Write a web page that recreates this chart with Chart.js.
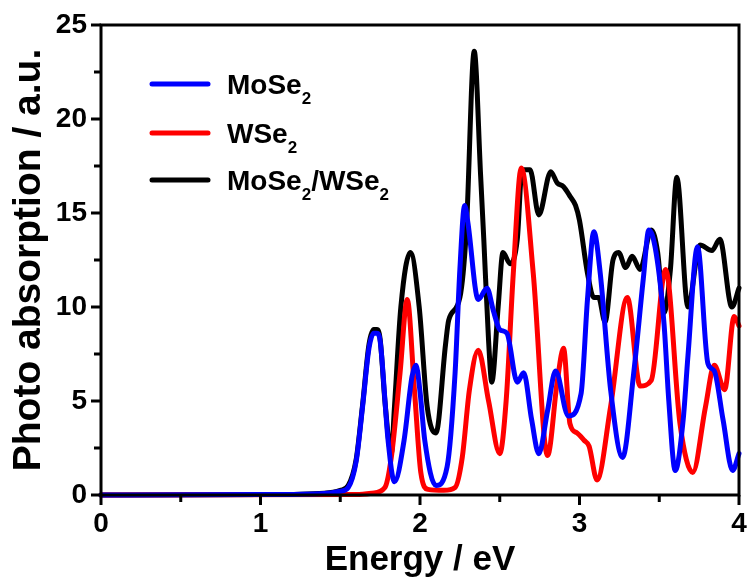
<!DOCTYPE html>
<html>
<head>
<meta charset="utf-8">
<script src="https://cdn.jsdelivr.net/npm/chart.js@4.4.1/dist/chart.umd.min.js"></script>
<style>
body{margin:0;background:#fff}
canvas{display:block}
</style>
</head>
<body>
<canvas id="absChart" width="747" height="583"></canvas>
<script>
/* =====================================================
DATA
===================================================== */

const xTicks=[0,1,2,3,4]
const yTicks=[0,5,10,15,20,25]

const moseEnergy=[0,1.0,1.4,1.5,1.55,1.6,1.64,1.68,1.71,1.73,1.75,1.80,1.84,1.90,1.95,1.975,2.0,2.03,2.10,2.17,2.22,2.25,2.28,2.30,2.365,2.42,2.46,2.50,2.545,2.61,2.65,2.70,2.745,2.80,2.85,2.93,3.01,3.05,3.09,3.13,3.195,3.27,3.34,3.40,3.435,3.48,3.53,3.56,3.60,3.65,3.68,3.74,3.805,3.845,3.90,3.96,4.0]
const moseAbs=[0,0.02,0.08,0.2,0.4,1.8,4.7,7.8,8.6,8.6,8.2,2.9,0.7,2.9,6.3,6.9,5.5,2.9,0.5,1.5,6.5,12.0,15.4,14.5,10.4,11.0,9.8,8.8,8.6,6.0,6.5,4.0,2.2,4.5,6.6,4.2,5.4,10.4,14.0,11.8,5.6,2.0,6.5,11.5,14.1,12.9,9.1,5.0,1.3,4.0,7.4,13.2,7.0,6.6,4.0,1.3,2.2]

const wseEnergy=[0,1.6,1.7,1.78,1.82,1.875,1.92,1.965,2.005,2.05,2.15,2.22,2.265,2.31,2.365,2.43,2.50,2.54,2.585,2.635,2.71,2.80,2.86,2.90,2.94,2.985,3.03,3.06,3.11,3.195,3.30,3.38,3.45,3.54,3.63,3.71,3.79,3.845,3.91,3.97,4.0]
const wseAbs=[0,0.02,0.1,0.4,2.0,6.5,10.4,5.6,1.2,0.3,0.25,0.4,2.0,5.6,7.7,5.0,2.2,5.0,11.8,17.4,11.8,2.1,6.0,7.8,3.8,3.3,2.9,2.6,0.8,4.7,10.5,5.8,6.1,12.0,3.8,1.2,4.7,6.9,5.6,9.5,9.0]

const heteroEnergy=[0,1.0,1.4,1.5,1.55,1.6,1.64,1.68,1.71,1.73,1.75,1.78,1.82,1.84,1.88,1.94,1.995,2.045,2.10,2.16,2.18,2.25,2.29,2.34,2.38,2.40,2.43,2.45,2.49,2.52,2.565,2.61,2.64,2.69,2.745,2.82,2.86,2.90,2.94,2.975,3.0,3.05,3.09,3.12,3.16,3.21,3.245,3.29,3.33,3.38,3.45,3.49,3.53,3.57,3.61,3.68,3.755,3.83,3.88,3.955,4.0]
const heteroAbs=[0,0.02,0.1,0.25,0.5,1.9,4.8,8.0,8.8,8.8,8.3,5.0,2.2,4.7,10.0,12.9,10.0,4.7,3.3,8.0,9.3,10.5,14.0,23.6,17.0,13.6,8.2,6.0,10.0,12.9,12.3,13.6,17.3,17.3,14.9,17.2,16.6,16.4,15.9,15.4,14.6,11.8,10.5,10.5,9.2,12.5,12.9,12.1,12.7,12.0,14.1,12.9,9.7,12.0,16.9,10.0,13.3,13.0,13.6,10.0,11.0]

const seriesNames=["MoSe|2","WSe|2","MoSe|2|/WSe|2"]
const seriesColors=["#0000ff","#ff0000","#000000"]


/* =====================================================
HELPERS
===================================================== */

function toPoints(xs,ys){
return xs.map((x,i)=>({x:x,y:ys[i]}))
}

const FONT="Liberation Sans, Arial, sans-serif"


/* =====================================================
FRAME + TICKS PLUGIN
===================================================== */

const framePlugin={
id:"frame",
afterDatasetsDraw(chart){

const c=chart.ctx
const a=chart.chartArea
const xs=chart.scales.x
const ys=chart.scales.y

c.save()
c.strokeStyle="#000"
c.lineWidth=3
c.strokeRect(a.left,a.top,a.right-a.left,a.bottom-a.top)

for(let v=0;v<=4.001;v+=0.5){
const px=xs.getPixelForValue(v)
const len=(Math.abs(v-Math.round(v))<0.01)?10:7
c.beginPath()
c.moveTo(px,a.bottom)
c.lineTo(px,a.bottom+len)
c.stroke()
}

for(let v=0;v<=25.001;v+=2.5){
const py=ys.getPixelForValue(v)
const len=(Math.abs(v/5-Math.round(v/5))<0.01)?10:7
c.beginPath()
c.moveTo(a.left,py)
c.lineTo(a.left-len,py)
c.stroke()
}

c.restore()
}
}


/* =====================================================
LEGEND WITH SUBSCRIPTS
===================================================== */

function drawSubText(c,text,x,y){

const parts=text.split("|")
let cx=x

parts.forEach((p,i)=>{
if(i%2===1){
c.font="bold 17px "+FONT
c.fillText(p,cx,y+10)
}else{
c.font="bold 28px "+FONT
c.fillText(p,cx,y)
}
cx+=c.measureText(p).width
})

}

const legendPlugin={
id:"subLegend",
afterDraw(chart){

const c=chart.ctx
const a=chart.chartArea
const rows=[84,133,180]

c.save()
c.textBaseline="alphabetic"
c.fillStyle="#000"

seriesNames.forEach((name,i)=>{
const y=rows[i]
c.strokeStyle=seriesColors[i]
c.lineWidth=5
c.lineCap="round"
c.beginPath()
c.moveTo(152,y)
c.lineTo(208,y)
c.stroke()
drawSubText(c,name,227,y+10)
})

c.restore()
}
}


/* =====================================================
CHART
===================================================== */

const ctx=document.getElementById("absChart")

new Chart(ctx,{
type:"line",
data:{
datasets:[
{
label:"MoSe2",
data:toPoints(moseEnergy,moseAbs),
borderColor:seriesColors[0],
borderWidth:5,
order:0
},
{
label:"WSe2",
data:toPoints(wseEnergy,wseAbs),
borderColor:seriesColors[1],
borderWidth:5,
order:1
},
{
label:"MoSe2/WSe2",
data:toPoints(heteroEnergy,heteroAbs),
borderColor:seriesColors[2],
borderWidth:5,
order:2
}
]
},
plugins:[framePlugin,legendPlugin],
options:{
responsive:false,
animation:false,
clip:6,
layout:{padding:{top:25,right:8,left:0,bottom:0}},
elements:{
point:{radius:0},
line:{cubicInterpolationMode:"monotone",borderJoinStyle:"round",borderCapStyle:"round"}
},
plugins:{
legend:{display:false},
tooltip:{enabled:false}
},
scales:{
x:{
type:"linear",
min:0,
max:4,
afterBuildTicks(s){s.ticks=xTicks.map(v=>({value:v}))},
afterFit(s){s.height=88;s.paddingLeft=0;s.paddingRight=0},
grid:{display:false,drawTicks:false},
border:{display:false},
ticks:{
padding:12,
color:"#000",
font:{family:FONT,size:28,weight:"bold"},
maxRotation:0
},
title:{
display:true,
text:"Energy / eV",
color:"#000",
font:{family:FONT,size:35,weight:"bold"},
padding:{top:0,bottom:2}
}
},
y:{
min:0,
max:25,
afterBuildTicks(s){s.ticks=yTicks.map(v=>({value:v}))},
afterFit(s){s.width=101;s.paddingTop=0;s.paddingBottom=0},
grid:{display:false,drawTicks:false},
border:{display:false},
ticks:{
padding:14,
color:"#000",
font:{family:FONT,size:28,weight:"bold"}
},
title:{
display:true,
text:"Photo absorption / a.u.",
color:"#000",
font:{family:FONT,size:39,weight:"bold"},
padding:{top:6,bottom:0}
}
}
}
}
})
</script>
</body>
</html>
